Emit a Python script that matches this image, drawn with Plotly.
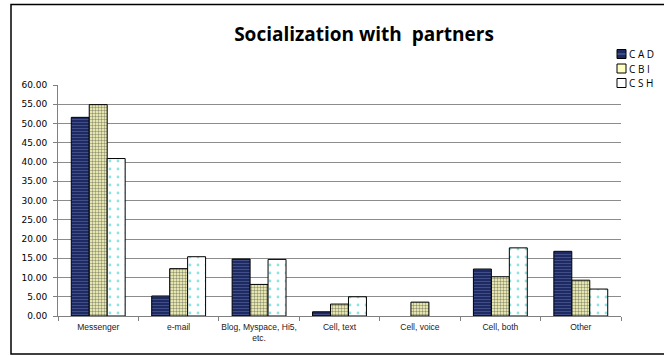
import plotly.graph_objects as go

# Categories and series (percent of respondents)
categories = ["Messenger", "e-mail", "Blog, Myspace, Hi5,<br>etc.", "Cell, text",
              "Cell, voice", "Cell, both", "Other"]
series_names = ["C A D", "C B I", "C S H"]
cad = [51.6, 5.2, 14.8, 1.1, None, 12.2, 16.8]
cbi = [54.9, 12.3, 8.2, 3.1, 3.6, 10.2, 9.3]
csh = [40.9, 15.4, 14.7, 5.0, None, 17.7, 7.0]
y_ticks = [0, 5, 10, 15, 20, 25, 30, 35, 40, 45, 50, 55, 60]

W, H = 664, 355
ML, MR, MT, MB = 58, 43, 85, 39
PW, PH = W - ML - MR, H - MT - MB


def px_x(x):
    return (x - ML) / PW


def px_y(y):
    return (H - MB - y) / PH


styles = [
    dict(bgcolor="#1E2A62", fgcolor="#6372AE", shape="-", size=3, solidity=0.35),
    dict(bgcolor="#FFFFC2", fgcolor="#2A2A2A", shape=".", size=3, solidity=0.5),
    dict(bgcolor="#FFFFFF", fgcolor="#1CC8C8", shape=".", size=8, solidity=0.1),
]

fig = go.Figure()
for name, vals, st in zip(series_names, [cad, cbi, csh], styles):
    fig.add_trace(go.Bar(
        x=categories, y=vals, name=name,
        marker=dict(color=st["bgcolor"],
                    line=dict(color="#000000", width=1),
                    pattern=dict(shape=st["shape"], fgcolor=st["fgcolor"],
                                 bgcolor=st["bgcolor"], size=st["size"],
                                 solidity=st["solidity"], fillmode="overlay")),
        showlegend=False,
    ))

shapes = [
    # chart frame
    dict(type="rect", xref="paper", yref="paper",
         x0=px_x(11), x1=px_x(W + 20), y0=px_y(354), y1=px_y(4.5),
         line=dict(color="#000000", width=1.5), fillcolor="rgba(0,0,0,0)",
         layer="below"),
]
annotations = []

# legend keys
legend_y = [54, 68.5, 83]
key_fill = ["#1E2A62", "#FFFFC2", "#FFFFFF"]
for name, yc, fc in zip(series_names, legend_y, key_fill):
    shapes.append(dict(type="rect", xref="paper", yref="paper",
                       x0=px_x(617), x1=px_x(626), y0=px_y(yc + 4.5), y1=px_y(yc - 4.5),
                       line=dict(color="#000000", width=1), fillcolor=fc, layer="above"))
    annotations.append(dict(xref="paper", yref="paper", x=px_x(628), y=px_y(yc),
                            xanchor="left", yanchor="middle", showarrow=False,
                            borderpad=0, text=name,
                            font=dict(family="Open Sans", size=10, color="#000000")))
# stripe on the first key
shapes.append(dict(type="line", xref="paper", yref="paper",
                   x0=px_x(617.5), x1=px_x(625.5), y0=px_y(54), y1=px_y(54),
                   line=dict(color="#6372AE", width=1), layer="above"))

fig.update_layout(
    width=W, height=H,
    margin=dict(l=ML, r=MR, t=MT, b=MB, pad=0),
    paper_bgcolor="#FFFFFF", plot_bgcolor="#FFFFFF",
    barmode="group", bargap=0.33, bargroupgap=0,
    title=dict(text="<b>Socialization with  partners</b>",
               x=364 / W, xref="container", xanchor="center",
               y=1 - 34 / H, yref="container", yanchor="middle",
               font=dict(family="Open Sans", size=19, color="#000000")),
    xaxis=dict(type="category", showgrid=False, showline=True, linecolor="#808080",
               linewidth=1, ticks="outside", tickson="boundaries", ticklen=4,
               tickcolor="#808080", tickangle=0, automargin=False,
               ticklabelstandoff=3,
               tickfont=dict(family="Liberation Sans", size=8.5, color="#222222")),
    yaxis=dict(range=[0, 60], tickvals=y_ticks, tickformat=".2f", showgrid=True,
               gridcolor="#8C8C8C", gridwidth=1, showline=True, linecolor="#808080",
               ticks="outside", ticklen=4, tickcolor="#808080", zeroline=False,
               ticklabelstandoff=4, automargin=False,
               tickfont=dict(family="DejaVu Sans", size=9, color="#000000")),
    shapes=shapes, annotations=annotations,
)

fig.write_html("out.html")
